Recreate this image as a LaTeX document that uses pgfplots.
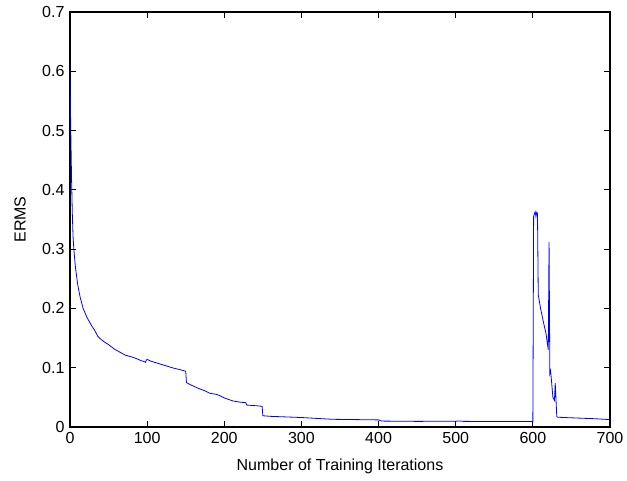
\documentclass[border=0pt]{standalone}
\usepackage{fontspec}
\setmainfont{Liberation Sans}
\usepackage{pgfplots}
\pgfplotsset{compat=1.18}
\begin{document}
\fontsize{12}{14}\selectfont
\begin{tikzpicture}
\useasboundingbox (-52.5pt,-39.75pt) rectangle (417.75pt,320.25pt);
\begin{axis}[
	scale only axis,
	width=405pt, height=311.25pt,
	xmin=0, xmax=700, ymin=0, ymax=0.7,
	xtick={0,100,...,700},
	ytick={0,0.1,...,0.7},
	yticklabels={0,0.1,0.2,0.3,0.4,0.5,0.6,0.7},
	tick align=inside,
	major tick length=4.5pt,
	tick style={black, line width=0.6pt},
	axis line style={black, line width=0.8pt},
	/pgf/number format/assume math mode=true,
	xlabel={Number of Training Iterations},
	ylabel={ERMS},
	xlabel style={at={(axis description cs:0.5,-0.094)}, anchor=center},
	ylabel style={at={(axis description cs:-0.0926,0.5)}, anchor=center},
	clip=false,
]
\addplot[blue, line width=0.6pt] coordinates {
(0,0.600) (1,0.50) (2,0.42) (3,0.36) (4,0.32) (5,0.30) (7,0.27) (10,0.24)
(13,0.22) (17,0.200) (22,0.185) (27,0.173) (32,0.163) (36,0.153) (40,0.148)
(45,0.143) (50,0.139) (58,0.131) (65,0.126) (72,0.121) (78,0.119) (85,0.116)
(92,0.112) (97,0.110) (98,0.109) (99,0.113) (100,0.114) (105,0.111)
(115,0.107) (125,0.103) (135,0.099) (142,0.097) (150,0.094) (151,0.075)
(155,0.072) (165,0.066) (175,0.061) (181,0.057) (190,0.055) (194,0.053)
(200,0.049) (211,0.044) (220,0.042) (228,0.041) (229,0.037) (240,0.036)
(249,0.035) (250,0.019) (260,0.018) (280,0.017) (300,0.016) (320,0.0145)
(340,0.013) (370,0.0125) (400,0.012) (404,0.010) (450,0.0095) (500,0.0098)
(505,0.0102) (510,0.0095) (550,0.0093) (600,0.0092)
(601,0.355) (602,0.360) (603,0.363) (604,0.355) (605,0.362) (606,0.360)
(607,0.223) (610,0.200) (614,0.175) (617,0.158) (620,0.130) (621,0.312)
(622,0.090) (623,0.095) (624,0.080) (626,0.050) (628,0.045) (629,0.074)
(631,0.018) (632,0.0165) (650,0.0155) (680,0.014) (700,0.0125)
};
\end{axis}
\end{tikzpicture}
\end{document}
